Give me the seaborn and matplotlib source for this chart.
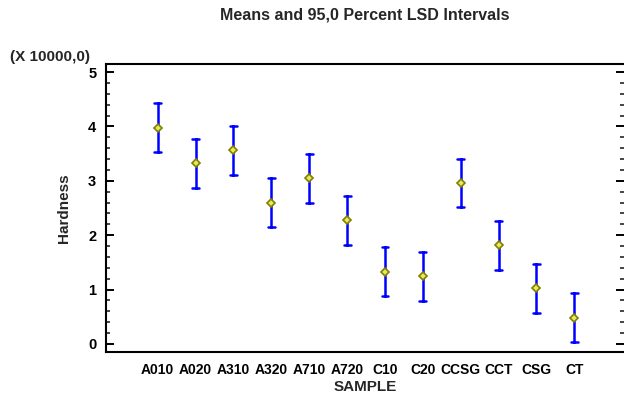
import matplotlib
matplotlib.use("Agg")
import matplotlib.pyplot as plt
from matplotlib.ticker import MultipleLocator
import numpy as np
import pandas as pd
import seaborn as sns

# Group means (in units of 10000) and LSD half-width
samples = ["A010", "A020", "A310", "A320", "A710", "A720",
           "C10", "C20", "CCSG", "CCT", "CSG", "CT"]
means = [3.98, 3.32, 3.56, 2.60, 3.05, 2.27,
         1.33, 1.24, 2.96, 1.81, 1.02, 0.48]
lsd_half = 0.45
yticks = [0, 1, 2, 3, 4, 5]

sns.set_theme(style="white")
plt.rcParams["font.family"] = ["Liberation Sans", "DejaVu Sans"]
plt.rcParams["font.weight"] = "bold"

# Long-form table: lower bound, mean, upper bound per sample
rows = []
for s, m in zip(samples, means):
    for v in (m - lsd_half, m, m + lsd_half):
        rows.append({"SAMPLE": s, "Hardness": v})
df_int = pd.DataFrame(rows)
df_mean = pd.DataFrame({"SAMPLE": samples, "Hardness": means})

fig = plt.figure(figsize=(6.24, 3.98), dpi=100)
ax = fig.add_axes([106 / 624, 46 / 398, 518 / 624, 288 / 398])

# Intervals: full range of (lower, mean, upper) spans the LSD interval
sns.pointplot(data=df_int, x="SAMPLE", y="Hardness", order=samples,
              estimator="mean", errorbar=("pi", 100), capsize=0.18,
              color="#0000ff", linestyle="none", marker="",
              err_kws={"linewidth": 1.8}, ax=ax)
# Means
sns.pointplot(data=df_mean, x="SAMPLE", y="Hardness", order=samples,
              errorbar=None, linestyle="none", marker="D", markersize=4.2,
              color="#808000", markerfacecolor="#e8e860",
              markeredgecolor="#808000", markeredgewidth=1.2, ax=ax)

ax.set_xlim(-1.365, 12.31)
ax.set_ylim(-0.15, 5.15)
ax.set_yticks(yticks)
ax.set_yticklabels([str(t) for t in yticks])
ax.yaxis.set_minor_locator(MultipleLocator(0.2))

for side in ("left", "top", "bottom"):
    ax.spines[side].set_visible(True)
    ax.spines[side].set_color("black")
    ax.spines[side].set_linewidth(1.5)
ax.spines["right"].set_visible(False)

ax.tick_params(axis="y", which="major", direction="in", length=5.5, width=1.4,
               left=True, right=True, labelsize=10.5, pad=7, colors="black")
ax.tick_params(axis="y", which="minor", direction="in", length=2.8, width=1.2,
               left=True, right=True)
ax.tick_params(axis="x", which="both", bottom=False, top=False, length=0,
               labelsize=10, pad=8, colors="black")
for lbl in ax.get_xticklabels() + ax.get_yticklabels():
    lbl.set_fontweight("bold")

ax.set_xlabel("SAMPLE", fontsize=11, fontweight="bold", labelpad=2)
ax.set_ylabel("Hardness", fontsize=11, fontweight="bold", labelpad=12)

fig.text(365 / 624, 1 - 15 / 398, "Means and 95,0 Percent LSD Intervals",
         ha="center", va="center", fontsize=11.5, fontweight="bold")
fig.text(10 / 624, 1 - 57 / 398, "(X 10000,0)",
         ha="left", va="center", fontsize=11, fontweight="bold")

fig.savefig("out.png", dpi=100)
